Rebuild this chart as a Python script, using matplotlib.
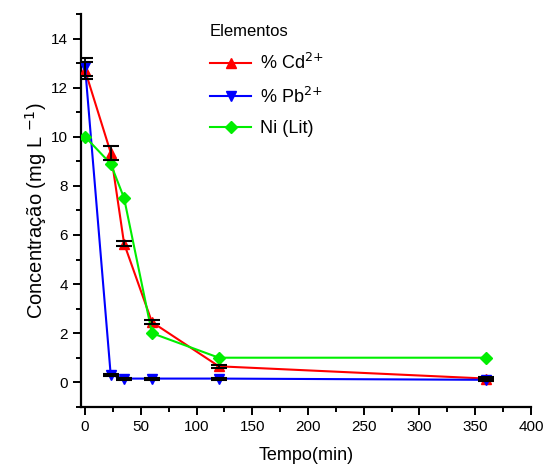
import matplotlib
matplotlib.use("Agg")
import matplotlib.pyplot as plt
from matplotlib.ticker import MultipleLocator

plt.rcParams['font.family'] = ['Liberation Sans', 'DejaVu Sans']

# tempo (min)
tempo = [0, 23, 35, 60, 120, 360]

# concentracoes
cd = [12.7, 9.35, 5.65, 2.45, 0.65, 0.15]
cd_err = [0.36, 0.28, 0.12, 0.09, 0.05, 0.05]
pb = [12.85, 0.3, 0.15, 0.15, 0.15, 0.1]
pb_err = [0.37, 0.05, 0.04, 0.04, 0.04, 0.04]
ni = [10.0, 8.9, 7.5, 2.0, 1.0, 1.0]

fig = plt.figure(figsize=(5.44, 4.66), dpi=100)
ax = fig.add_axes([0.149, 0.127, 0.827, 0.843])

ax.plot(tempo, cd, color='red', lw=1.5, marker='^', ms=7, label='% Cd$^{2{+}}$', zorder=3)
ax.errorbar(tempo, cd, yerr=cd_err, fmt='none', ecolor='black', elinewidth=1.3,
            capsize=6, capthick=1.5, zorder=4)
ax.plot(tempo, pb, color='blue', lw=1.5, marker='v', ms=7, label='% Pb$^{2{+}}$', zorder=3)
ax.errorbar(tempo, pb, yerr=pb_err, fmt='none', ecolor='black', elinewidth=1.3,
            capsize=6, capthick=1.5, zorder=4)
ax.plot(tempo, ni, color='#00ee00', lw=1.5, marker='D', ms=6, label='Ni (Lit)', zorder=3)

ax.set_xlim(-3.6, 400)
ax.set_ylim(-1, 15)
ax.xaxis.set_major_locator(MultipleLocator(50))
ax.xaxis.set_minor_locator(MultipleLocator(25))
ax.yaxis.set_major_locator(MultipleLocator(2))
ax.yaxis.set_minor_locator(MultipleLocator(1))
ax.set_yticks(range(0, 15, 2))
ax.spines['top'].set_visible(False)
ax.spines['right'].set_visible(False)
ax.spines['left'].set_linewidth(1.6)
ax.spines['bottom'].set_linewidth(1.6)
ax.tick_params(which='major', length=6, width=1.4, labelsize=11, direction='out')
ax.tick_params(which='minor', length=3.5, width=1.4, direction='out')

ax.set_xlabel('Tempo(min)', fontsize=13, labelpad=9)
ax.set_ylabel('Concentração (mg L $^{-1}$)', fontsize=14.5, labelpad=1)

leg = ax.legend(loc='upper left', bbox_to_anchor=(0.25, 1.015), frameon=False,
                title='Elementos', fontsize=13, title_fontsize=12,
                handlelength=2.3, handletextpad=0.5, labelspacing=0.75,
                alignment='left')

fig.savefig('out.png', dpi=100)
